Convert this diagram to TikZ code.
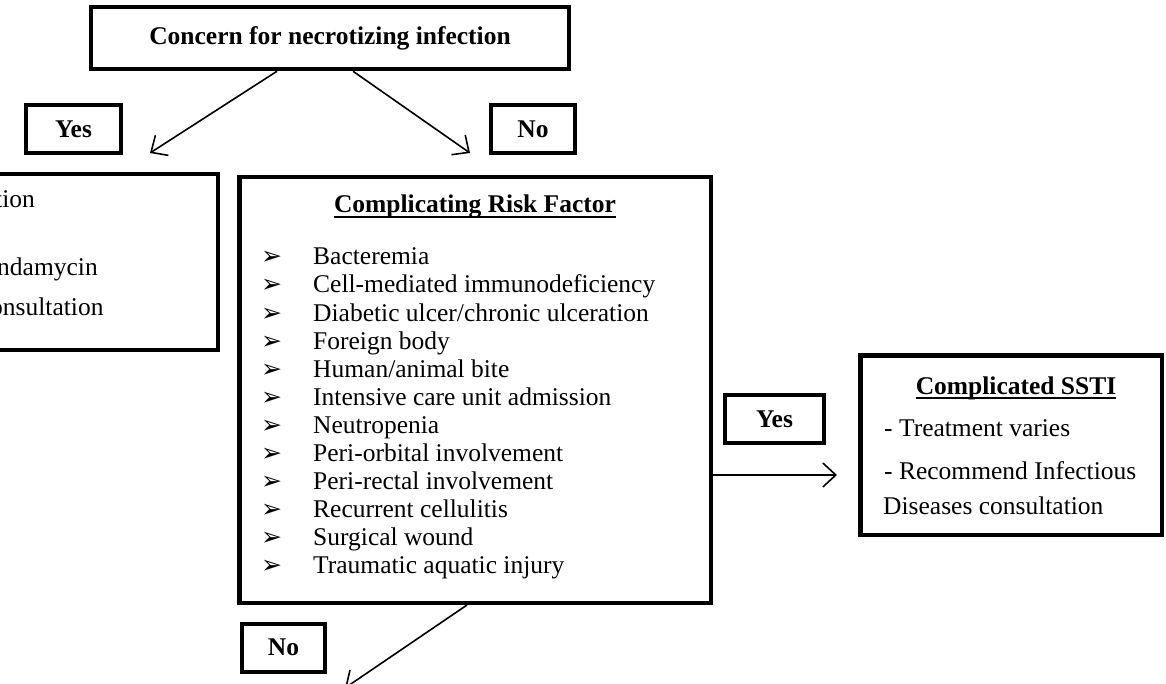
\documentclass[tikz,border=0pt]{standalone}
\usepackage{fontspec}
\setmainfont{Liberation Serif}
\newfontfamily\markfont{DejaVu Sans}
\usetikzlibrary{arrows.meta, positioning}

\newcommand{\diagfont}{\fontsize{25.5}{28}\selectfont}

\begin{document}
\begin{tikzpicture}[
    x=1pt, y=-1pt,
    frame/.style={rectangle, draw, line width=4.5pt, inner sep=0pt, font=\diagfont},
    answer/.style={rectangle, draw, line width=4pt, minimum height=48pt, inner sep=0pt, font=\diagfont\bfseries},
    entry/.style={anchor=base west, inner sep=0pt, font=\diagfont},
    heading/.style={anchor=base, inner sep=0pt, font=\diagfont\bfseries},
    arrow/.style={-{Straight Barb[length=13pt, width=24pt]}, line width=1.6pt}
]
    \useasboundingbox (0,0) rectangle (1166,684);
    \clip (0,0) rectangle (1166,684);

    % Top question
    \node[frame, minimum width=478pt, minimum height=62pt, font=\diagfont\bfseries] (concern) at (330,38) {Concern for necrotizing infection};
    \node[answer, minimum width=95pt] (yesnec) at (73.5,129) {Yes};
    \node[answer, minimum width=84pt] (nonec) at (533,129) {No};

    % Yes branch (cut by the page edge)
    \node[frame, minimum width=435.5pt, minimum height=175.5pt] (surg) at (0,262) {};
    \node[entry] (surgA) at (-5,208) {tion};
    \node[entry] (surgB) at (-3,276) {ndamycin};
    \node[entry] (surgC) at (-10,316) {onsultation};

    % No branch: risk factors
    \node[frame, minimum width=471.5pt, minimum height=425.5pt] (risk) at (475,390) {};
    \node[heading] (riskhead) at (475,213) {Complicating Risk Factor};
    \draw[line width=1.4pt] ([yshift=-4pt]riskhead.base west) -- ([yshift=-4pt]riskhead.base east);
    \foreach \txt [count=\i] in {Bacteremia, Cell-mediated immunodeficiency,
        Diabetic ulcer/chronic ulceration, Foreign body, Human/animal bite,
        Intensive care unit admission, Neutropenia, Peri-orbital involvement,
        Peri-rectal involvement, Recurrent cellulitis, Surgical wound,
        Traumatic aquatic injury} {
        \node[entry, font=\markfont\fontsize{25}{25}\selectfont] (mark\i) at (261,265+28*\i-28) {➢};
        \node[entry] (fact\i) at (313,265+28*\i-28) {\txt};
    }

    % Complicated SSTI
    \node[frame, minimum width=301.5pt, minimum height=179.5pt] (ssti) at (1011,445) {};
    \node[heading] (sstihead) at (1016,394) {Complicated SSTI};
    \draw[line width=1.4pt] ([yshift=-4pt]sstihead.base west) -- ([yshift=-4pt]sstihead.base east);
    \node[entry] (sstiA) at (884,436) {- Treatment varies};
    \node[entry] (sstiB) at (884,479) {- Recommend Infectious};
    \node[entry] (sstiC) at (883,514) {Diseases consultation};
    \node[answer, minimum width=99pt] (yesrisk) at (774.5,419) {Yes};
    \node[answer, minimum width=83pt] (norisk) at (283.5,647.5) {No};

    % Connectors
    \coordinate (yestip) at (150,153);
    \coordinate (notip) at (470,153);
    \coordinate (sstitip) at (837,475);
    \coordinate (lowtip) at (345,688);
    \draw[arrow] ([xshift=-53pt]concern.south) -- (yestip);
    \draw[arrow] ([xshift=23pt]concern.south) -- (notip);
    \draw[arrow] (risk.east |- sstitip) -- (sstitip);
    \draw[arrow] ([xshift=-8pt]risk.south) -- (lowtip);
\end{tikzpicture}
\end{document}
